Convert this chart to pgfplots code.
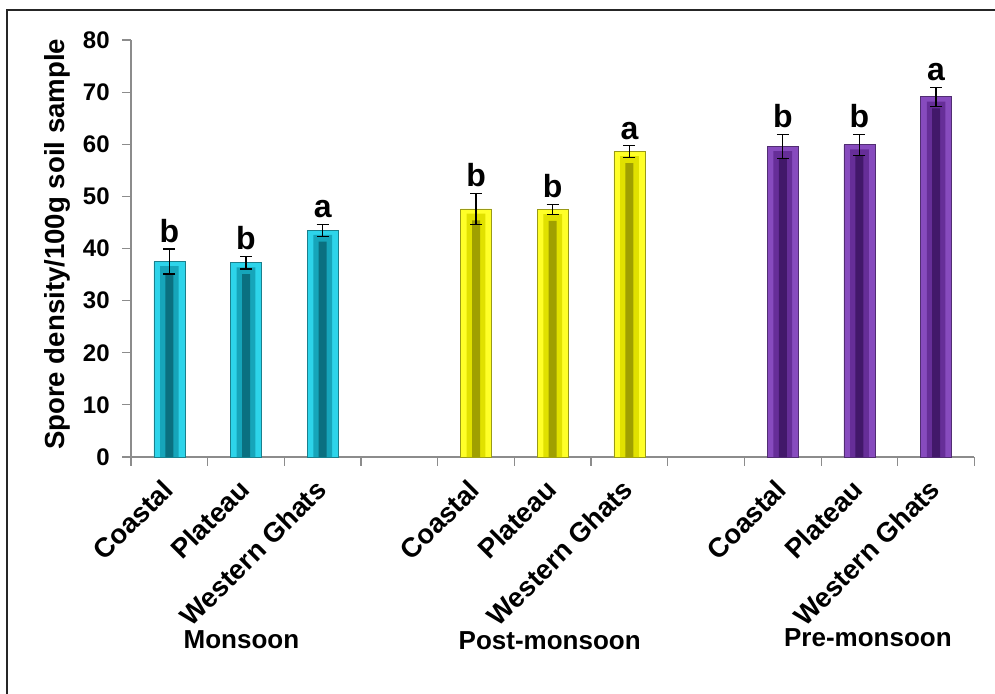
\documentclass[border=0pt]{standalone}
\usepackage{fontspec}
\setmainfont{Liberation Sans}
\usepackage{pgfplots}
\usepackage{pgfplotstable}
\pgfplotsset{compat=1.18}
\definecolor{cyL}{RGB}{45,212,234}
\definecolor{cyM}{RGB}{22,165,186}
\definecolor{cyD}{RGB}{10,112,128}
\definecolor{ylL}{RGB}{255,255,40}
\definecolor{ylM}{RGB}{225,225,0}
\definecolor{ylD}{RGB}{160,160,0}
\definecolor{puL}{RGB}{135,75,190}
\definecolor{puM}{RGB}{102,46,152}
\definecolor{puD}{RGB}{66,24,106}
\definecolor{axgray}{RGB}{140,140,140}
\pgfplotstableread{
x y e lab
0 37.5 2.4 b
1 37.3 1.2 b
2 43.5 1.15 a
}\mon
\pgfplotstableread{
x y e lab
4 47.6 3.0 b
5 47.5 1.0 b
6 58.6 1.1 a
}\post
\pgfplotstableread{
x y e lab
8 59.6 2.3 b
9 59.9 2.0 b
10 69.1 1.8 a
}\pre
\pgfplotsset{
  outerbar/.style={ybar, bar shift=0pt, bar width=23.25pt, fill=#1, draw=#1!60!black, line width=0.5pt},
  innerbar/.style={ybar, bar shift=0pt, bar width=14pt, fill=#1, draw=none, forget plot},
  corebar/.style={ybar, bar shift=0pt, bar width=6pt, fill=#1, draw=none, forget plot},
  errstyle/.style={draw=none, mark=none, forget plot,
    error bars/.cd, y dir=both, y explicit,
    error bar style={draw=black, line width=1pt},
    error mark options={draw=black, rotate=90, mark size=4.5pt, line width=1pt}},
  letstyle/.style={draw=none, mark=none, forget plot,
    nodes near coords, point meta=explicit symbolic,
    nodes near coords style={font=\fontsize{24}{26}\selectfont\bfseries, inner sep=0pt, anchor=south, yshift=4.5pt}},
}
\begin{document}
\begin{tikzpicture}
\begin{scope}[x=0.75pt,y=0.75pt]
\useasboundingbox (-131,-236) rectangle (864,457);
\clip (-131,-236) rectangle (864,457);
\draw[line width=1.8pt, black!85] (-124,-250) -- (-124,447) -- (880,447);
\end{scope}
\begin{axis}[
  at={(0pt,0pt)}, anchor=south west,
  scale only axis,
  width=632.6pt, height=312.75pt,
  clip=false,
  xmin=-0.5, xmax=10.5,
  ymin=0, ymax=80,
  axis x line=bottom, axis y line=left,
  axis line style={draw=axgray, line width=0.9pt, -},
  tick align=outside,
  tick style={draw=axgray, line width=0.9pt},
  major tick length=6.5pt,
  ytick={0,10,...,80},
  /pgf/number format/assume math mode=true,
  yticklabel style={font=\fontsize{18}{20}\selectfont\bfseries, xshift=-6pt},
  xtick={-0.5,0.5,...,10.5},
  xticklabels={},
  extra x ticks={0,1,2,4,5,6,8,9,10},
  extra x tick labels={Coastal,Plateau,Western Ghats,Coastal,Plateau,Western Ghats,Coastal,Plateau,Western Ghats},
  extra x tick style={major tick length=0pt,
    xticklabel style={rotate=45, anchor=east, inner sep=0pt,
      font=\fontsize{20.5}{22}\selectfont\bfseries, xshift=-15.5pt, yshift=-14pt}},
  ylabel={Spore density/100g soil sample},
  ylabel style={at={(axis description cs:-0.087,0.51)}, anchor=center, rotate=0,
    font=\fontsize{20.7}{22}\selectfont\bfseries},
]
\addplot[outerbar=cyL] table[x=x,y=y] {\mon};
\addplot[outerbar=ylL] table[x=x,y=y] {\post};
\addplot[outerbar=puL] table[x=x,y=y] {\pre};
\addplot[innerbar=cyM] table[x=x,y expr=\thisrow{y}-0.9] {\mon};
\addplot[innerbar=ylM] table[x=x,y expr=\thisrow{y}-0.9] {\post};
\addplot[innerbar=puM] table[x=x,y expr=\thisrow{y}-0.9] {\pre};
\addplot[corebar=cyD] table[x=x,y expr=\thisrow{y}-2.2] {\mon};
\addplot[corebar=ylD] table[x=x,y expr=\thisrow{y}-2.2] {\post};
\addplot[corebar=puD] table[x=x,y expr=\thisrow{y}-2.2] {\pre};
\addplot[errstyle] table[x=x,y=y,y error=e] {\mon};
\addplot[errstyle] table[x=x,y=y,y error=e] {\post};
\addplot[errstyle] table[x=x,y=y,y error=e] {\pre};
\addplot[letstyle] table[x=x, y expr=\thisrow{y}+\thisrow{e}, meta=lab] {\mon};
\addplot[letstyle] table[x=x, y expr=\thisrow{y}+\thisrow{e}, meta=lab] {\post};
\addplot[letstyle] table[x=x, y expr=\thisrow{y}+\thisrow{e}, meta=lab] {\pre};
\node[font=\fontsize{19.5}{21}\selectfont\bfseries] at (axis cs:0.94,-35.1) {Monsoon};
\node[font=\fontsize{19.5}{21}\selectfont\bfseries] at (axis cs:4.96,-35.3) {Post-monsoon};
\node[font=\fontsize{19.5}{21}\selectfont\bfseries] at (axis cs:9.11,-34.6) {Pre-monsoon};
\end{axis}
\end{tikzpicture}
\end{document}
